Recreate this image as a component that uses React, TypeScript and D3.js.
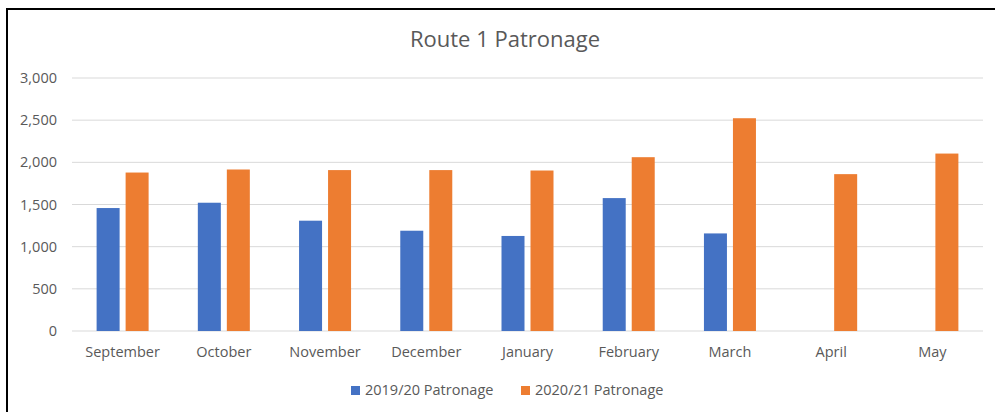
import React from 'react';
import * as d3 from 'd3';

const months = ['September', 'October', 'November', 'December', 'January', 'February', 'March', 'April', 'May'];
const series = ['2019/20 Patronage', '2020/21 Patronage'];
const patronage1920 = [1458, 1521, 1308, 1189, 1127, 1576, 1157, null, null];
const patronage2021 = [1879, 1915, 1908, 1908, 1903, 2061, 2523, 1860, 2104];
const yTicks = [0, 500, 1000, 1500, 2000, 2500, 3000];
const colors = ['#4472C4', '#ED7D31'];

const W = 995;
const H = 412;
const font = '"Open Sans", Lato, sans-serif';
const textColor = '#595959';

const App: React.FC = () => {
  const margin = { top: 78, right: 12, bottom: 81, left: 72 };
  const x0 = d3.scaleBand<string>().domain(months).range([margin.left, W - margin.right]).padding(0);
  const groupW = 52;
  const x1 = d3.scaleBand<string>().domain(series).range([0, groupW]).paddingInner(0.207).paddingOuter(0);
  const y = d3.scaleLinear().domain([0, 3000]).range([H - margin.bottom, margin.top]);
  const fmt = d3.format(',');
  const values = [patronage1920, patronage2021];

  return (
    <svg width={W} height={H} style={{ position: 'absolute', left: 0, top: 0, background: '#fff' }}>
      <rect x={7} y={9} width={W} height={H} fill="#fff" stroke="#000" strokeWidth={2} />
      <text x={505} y={47} textAnchor="middle" fontFamily={font} fontSize={22} fill={textColor}>
        Route 1 Patronage
      </text>
      {yTicks.map((t) => (
        <g key={t}>
          <line x1={margin.left} x2={W - margin.right} y1={y(t)} y2={y(t)} stroke="#d9d9d9" strokeWidth={1} />
          <text x={57} y={y(t)} dy="0.35em" textAnchor="end" fontFamily={font} fontSize={14.5} fill={textColor}>
            {fmt(t)}
          </text>
        </g>
      ))}
      {months.map((m, i) => {
        const cx = x0(m)! + x0.bandwidth() / 2;
        return (
          <g key={m}>
            {series.map((s, si) => {
              const v = values[si][i];
              if (v == null) return null;
              return (
                <rect
                  key={s}
                  x={cx - groupW / 2 + x1(s)!}
                  y={y(v)}
                  width={x1.bandwidth()}
                  height={y(0) - y(v)}
                  fill={colors[si]}
                />
              );
            })}
            <text x={cx} y={357} textAnchor="middle" fontFamily={font} fontSize={14.5} fill={textColor}>
              {m}
            </text>
          </g>
        );
      })}
      {series.map((s, si) => {
        const lx = si === 0 ? 351 : 521;
        return (
          <g key={s}>
            <rect x={lx} y={386} width={9} height={9} fill={colors[si]} />
            <text x={lx + 14} y={395} fontFamily={font} fontSize={14.5} fill={textColor}>
              {s}
            </text>
          </g>
        );
      })}
    </svg>
  );
};

export default App;
